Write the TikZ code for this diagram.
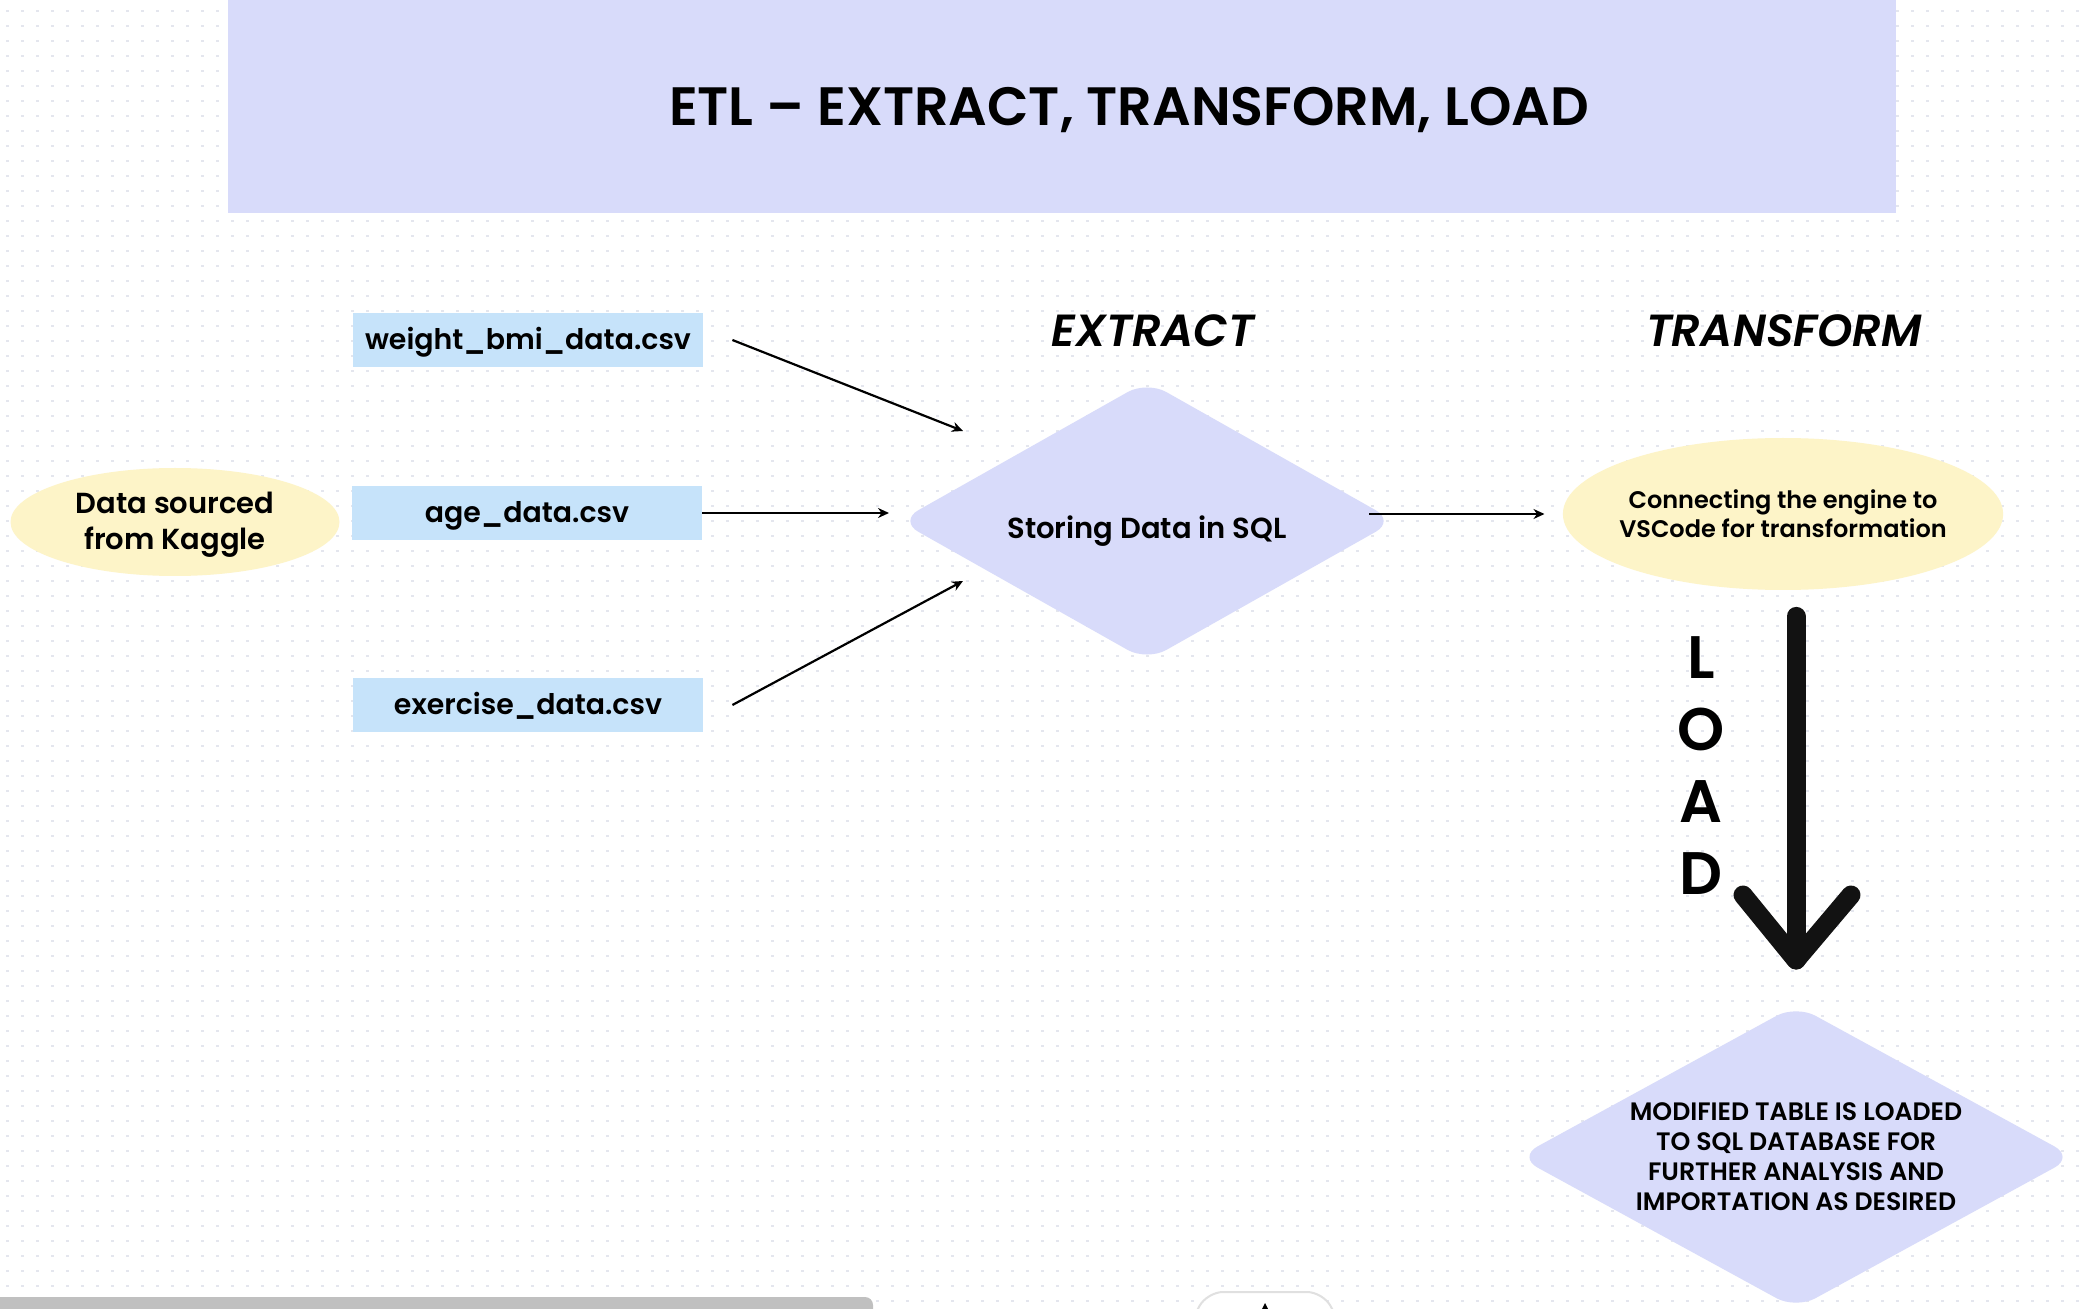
\documentclass[tikz,border=0pt]{standalone}
\usepackage{fontspec}
\setmainfont{Poppins}[BoldFont={* SemiBold},BoldItalicFont={* SemiBold Italic}]
\usetikzlibrary{shapes,arrows.meta,positioning}
\definecolor{lavender}{HTML}{D8DBFA}
\definecolor{skyblue}{HTML}{C6E3FA}
\definecolor{cream}{HTML}{FDF4C8}
\definecolor{griddot}{HTML}{E4E6EE}
\definecolor{scrollgray}{HTML}{C0C0C0}
\newcommand{\fsz}[2]{\fontsize{#1}{#2}\selectfont}
\newcommand{\dropby}[2]{\raisebox{-#1}[\height][\depth]{#2}}

\begin{document}
\begin{tikzpicture}[x=0.5pt,y=-0.5pt]
		\tikzstyle{filebox} = [fill=skyblue,minimum width=175pt,minimum height=27pt,inner sep=0pt,text height=12pt,text depth=2.5pt,font=\bfseries\fsz{14.2}{18}]
		\tikzstyle{blob} = [ellipse,fill=cream,inner sep=-4pt,align=center]
		\tikzstyle{store} = [diamond,fill=lavender,inner sep=-6pt,rounded corners=11pt,align=center]
		\tikzstyle{stage} = [font=\bfseries\itshape\fsz{22.5}{26}]
		\tikzstyle{arr} = [-{Stealth[length=5.5pt,width=5pt]},line width=1.1pt]
		\tikzstyle{loadarrow} = [line width=9.5pt,line cap=round,line join=round,color=black!93]
		\tikzstyle{dotrow} = [griddot,line width=1.4pt,dash pattern=on 1.4pt off 6.1pt]
		\useasboundingbox (0,0) rectangle (2091,1309);
		% Background
		\fill[white] (0,0) rectangle (2091,1309);
		\foreach \r in {0,...,87}
			\draw[dotrow] (6,11+15*\r) -- (2091,11+15*\r);
		% Title
		\node[fill=lavender,minimum width=834pt,minimum height=107pt,inner sep=0pt] at (1062,106)(banner) {};
		\node[font=\bfseries\fsz{27}{30}] at (1129,110)(title) {ETL – EXTRACT, TRANSFORM, LOAD};
		% Source
		\node[blob,minimum width=164.5pt,minimum height=54pt,font=\bfseries\fsz{14.5}{18}] at (175,522)(kaggle) {\dropby{1.5pt}{Data sourced}\\\dropby{1.5pt}{from Kaggle}};
		% Files
		\node[filebox] at (528,340)(wbox) {weight\_bmi\_data.csv};
		\node[filebox] at (527,513)(abox) {age\_data.csv};
		\node[filebox] at (528,705)(ebox) {exercise\_data.csv};
		% Extract
		\node[stage] at (1153,331)(extract) {EXTRACT};
		\node[store,aspect=1.76,minimum width=248pt,minimum height=140pt,font=\bfseries\fsz{14.5}{18}] at (1147,521)(sql) {\dropby{5pt}{Storing Data in SQL}};
		\coordinate[right=14.5pt of wbox.east] (outW);
		\coordinate[right=14.5pt of ebox.east] (outE);
		\coordinate (inW) at (963,431);
		\coordinate (inA) at (889,513);
		\coordinate (inE) at (963,581);
		\draw[arr] (outW) -- (inW);
		\draw[arr] (abox.east) -- (inA);
		\draw[arr] (outE) -- (inE);
		% Transform
		\node[stage] at (1784,331)(transform) {TRANSFORM};
		\node[blob,minimum width=220pt,minimum height=76pt,font=\bfseries\fsz{12}{14.7}] at (1783,514)(engine) {Connecting the engine to\\VSCode for transformation};
		\draw[arr,shorten <=-13pt,shorten >=9pt] (sql.east |- engine.west) -- (engine.west);
		% Load
		\node[store,aspect=1.82,minimum width=278pt,minimum height=152pt,font=\bfseries\fsz{12.6}{15}] at (1796,1157)(loaded) {MODIFIED TABLE IS LOADED\\TO SQL DATABASE FOR\\FURTHER ANALYSIS AND\\IMPORTATION AS DESIRED};
		\node[font=\bfseries\fsz{30}{36},align=center] at (1701,766)(load) {L\\O\\A\\D};
		\coordinate (loadtip) at (1796,960);
		\draw[loadarrow,shorten <=13pt] (engine.south -| loadtip) -- (loadtip);
		\draw[loadarrow] (loadtip) ++(-53,-65) -- (loadtip) -- ++(55,-65);
		% Window bits
		\fill[scrollgray,rounded corners=4pt] (-20,1297) rectangle (873,1325);
		\draw[black!12,fill=white,line width=1pt,rounded corners=8pt] (1193,1318) -- (1207,1292) -- (1323,1292) -- (1337,1318);
		\fill[black] (1265,1303) -- (1268,1309) -- (1262,1309) -- cycle;
\end{tikzpicture}
\end{document}
